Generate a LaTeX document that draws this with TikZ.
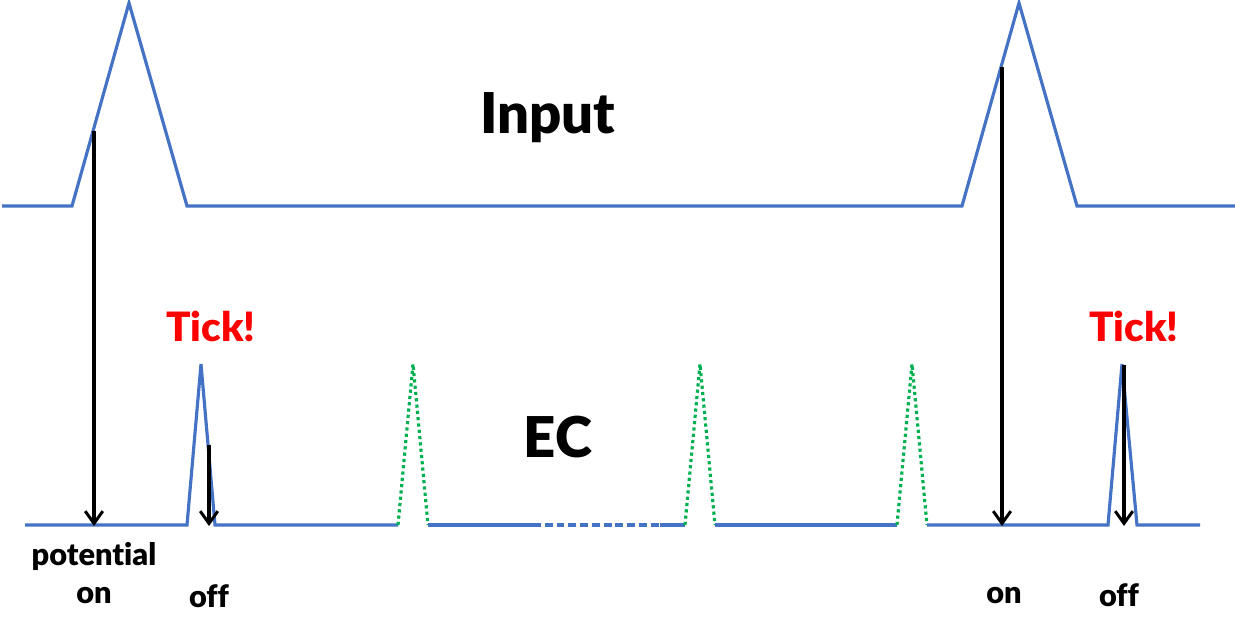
\documentclass[tikz,border=0pt]{standalone}
\usepackage{fontspec}
\newfontfamily\heavy{Lato Black}[Ligatures=NoCommon]
\usetikzlibrary{arrows.meta}
\definecolor{sigblue}{HTML}{4472C4}
\definecolor{siggreen}{HTML}{00B050}
\tikzset{
  sig/.style={draw=sigblue, line width=1.8pt, line join=miter},
  ghost/.style={draw=siggreen, line width=1.8pt, dash pattern=on 1.8pt off 1.8pt},
  gap/.style={draw=sigblue, line width=1.8pt, dash pattern=on 4.5pt off 2.2pt},
  evt/.style={draw=black, line width=1.8pt, -{Straight Barb[length=7pt,width=10pt,line width=1.7pt]}},
  big/.style={font=\heavy\fontsize{32}{34}\selectfont, inner sep=0pt},
  tick/.style={font=\heavy\fontsize{23}{26}\selectfont, text=red, inner sep=0pt},
  lab/.style={font=\heavy\fontsize{17.5}{20}\selectfont, inner sep=0pt}
}
\begin{document}
\begin{tikzpicture}[x=0.02cm, y=-0.02cm]
\useasboundingbox (0,0) rectangle (1235,635);
% input signal
\draw[sig] (2,206) -- (72,206) -- (129,3) -- (187,206) -- (962,206) -- (1019,3) -- (1077,206) -- (1235,206);
% EC signal
\draw[sig] (25,525) -- (187,525) -- (201,364) -- (215,525) -- (398,525);
\draw[ghost] (398,525) -- (413,364) -- (428,525);
\draw[sig] (428,525) -- (533,525);
\draw[gap] (533,525) -- (662,525);
\draw[sig] (660,525) -- (685,525);
\draw[ghost] (685,525) -- (700,364) -- (715,525);
\draw[sig] (715,525) -- (897,525);
\draw[ghost] (897,525) -- (912,364) -- (927,525);
\draw[sig] (927,525) -- (1108,525) -- (1122,364) -- (1137,525) -- (1200,525);
% event coordinates
\coordinate (on1top) at (94,131);
\coordinate (on1bot) at (94,526);
\coordinate (off1top) at (209,445);
\coordinate (off1bot) at (209,526);
\coordinate (on2top) at (1002,67);
\coordinate (on2bot) at (1002,526);
\coordinate (off2top) at (1124,365);
\coordinate (off2bot) at (1124,526);
\draw[evt] (on1top) -- (on1bot);
\draw[evt] (off1top) -- (off1bot);
\draw[evt] (on2top) -- (on2bot);
\draw[evt] (off2top) -- (off2bot);
% labels
\node[big] (input) at (548,118) {Input};
\node[big] (ec) at (558,437) {EC};
\node[tick] (tick1) at (211,326) {Tick!};
\node[tick] (tick2) at (1134,326) {Tick!};
\node[lab] (pot) at (94,556) {potential};
\node[lab] (on1) at (94,596) {on};
\node[lab] (off1) at (209,596) {off};
\node[lab] (on2) at (1004,596) {on};
\node[lab] (off2) at (1119,595) {off};
\end{tikzpicture}
\end{document}
